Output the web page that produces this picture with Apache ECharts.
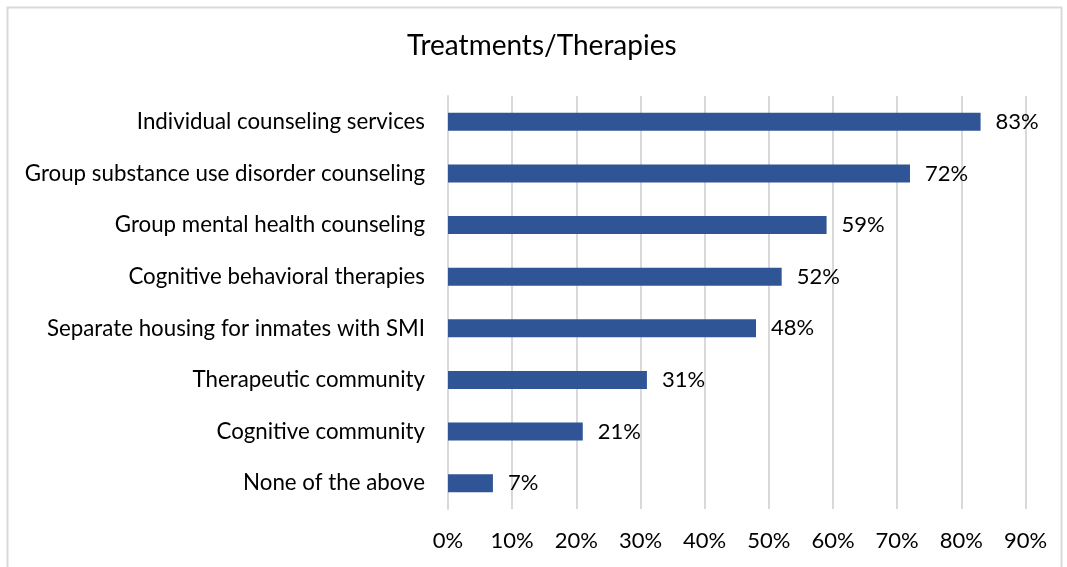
<!DOCTYPE html>
<html><head><meta charset="utf-8">
<script src="https://cdn.jsdelivr.net/npm/echarts@6/dist/echarts.min.js"></script>
<style>html,body{margin:0;padding:0;background:#fff}#c{width:1067px;height:567px}</style>
</head><body><div id="c"></div>
<script>
const categories = ["Individual counseling services","Group substance use disorder counseling","Group mental health counseling","Cognitive behavioral therapies","Separate housing for inmates with SMI","Therapeutic community","Cognitive community","None of the above"];
const values = [83,72,59,52,48,31,21,7];
const titleText = "Treatments/Therapies";
const FONT = "Lato, 'Open Sans', sans-serif";
const chart = echarts.init(document.getElementById('c'), null, {renderer:'canvas'});
chart.setOption({
  animation:false,
  backgroundColor:'#fff',
  graphic:[{type:'rect',shape:{x:7.5,y:7.5,width:1054,height:600},style:{fill:'none',stroke:'#d9d9d9',lineWidth:2},silent:true}],
  title:{text:titleText,left:407,top:32,padding:0,textStyle:{fontFamily:FONT,fontSize:28,fontWeight:'normal',color:'#000'}},
  grid:{left:448,right:1067-1025.5,top:96,bottom:567-509,containLabel:false},
  xAxis:{type:'value',min:0,max:90,interval:10,
    axisLabel:{formatter:'{value}%',fontFamily:FONT,fontSize:22,color:'#000',margin:21},
    axisLine:{show:false},axisTick:{show:false},
    splitLine:{lineStyle:{color:'#d9d9d9',width:2}}},
  yAxis:{type:'category',inverse:true,data:categories,
    axisLabel:{fontFamily:FONT,fontSize:22.3,color:'#000',margin:23},
    axisLine:{show:true,lineStyle:{color:'#d9d9d9',width:2}},axisTick:{show:false}},
  series:[{type:'bar',data:values,barWidth:18,itemStyle:{color:'#2F5597'},
    label:{show:true,position:'right',distance:15,formatter:'{c}%',fontFamily:FONT,fontSize:22,color:'#000'}}]
});
</script></body></html>
